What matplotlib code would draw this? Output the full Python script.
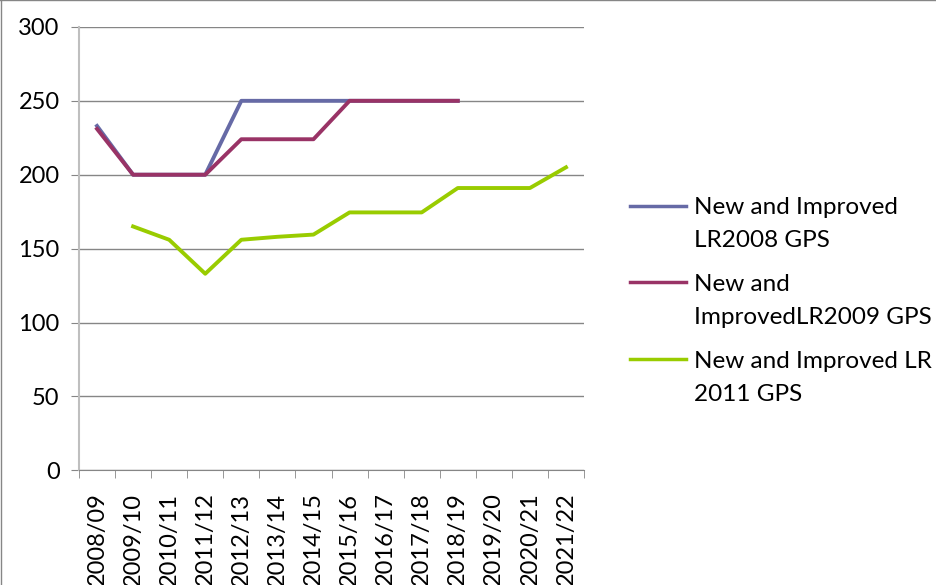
import matplotlib
matplotlib.use("Agg")
import matplotlib.pyplot as plt
from matplotlib.lines import Line2D
import numpy as np

nan = np.nan

seasons = ["2008/09", "2009/10", "2010/11", "2011/12", "2012/13", "2013/14", "2014/15",
           "2015/16", "2016/17", "2017/18", "2018/19", "2019/20", "2020/21", "2021/22"]

lr2008 = [233, 200, 200, 200, 250, 250, 250, 250, 250, 250, 250, nan, nan, nan]
lr2009 = [231, 200, 200, 200, 224, 224, 224, 250, 250, 250, 250, nan, nan, nan]
lr2011 = [nan, 165, 156, 133, 156, 158, 159.5, 174.5, 174.5, 174.5, 191, 191, 191, 205]

labels = ["New and Improved\nLR2008 GPS",
          "New and\nImprovedLR2009 GPS",
          "New and Improved LR\n2011 GPS"]
colors = ["#666AA6", "#993366", "#99CC00"]

plt.rcParams['font.family'] = ['Lato', 'DejaVu Sans']

fig = plt.figure(figsize=(9.37, 5.85), dpi=100)
ax = fig.add_axes([0.0843, 0.196, 0.5390, 0.758])

x = np.arange(len(seasons))
for vals, lab, col in zip([lr2008, lr2009, lr2011], labels, colors):
    ax.plot(x, vals, color=col, lw=2.8, label=lab)

ax.set_xlim(-0.5, len(seasons) - 0.5)
ax.set_ylim(0, 300)
ax.set_yticks(range(0, 301, 50))
ax.yaxis.grid(True, color="#868686", lw=1)
ax.set_axisbelow(True)

ax.set_xticks(x)
ax.set_xticklabels(seasons, rotation=90, fontsize=17)
ax.set_xticks(np.arange(-0.5, len(seasons)), minor=True)
ax.tick_params(axis='x', which='major', length=0, pad=16)
ax.tick_params(axis='x', which='minor', length=6, color="#868686")
ax.tick_params(axis='y', length=6, color="#868686", labelsize=17, pad=8)

for s in ['top', 'right']:
    ax.spines[s].set_visible(False)
ax.spines['left'].set_color("#BFBFBF")
ax.spines['left'].set_linewidth(1.5)
ax.spines['bottom'].set_color("#868686")

leg = fig.legend(loc='upper left', bbox_to_anchor=(630 / 937, 1 - 197 / 585), frameon=False,
                 fontsize=17.5, handlelength=2.3, handletextpad=0.35, labelspacing=0.95,
                 borderpad=0, borderaxespad=0)
for t in leg.get_texts():
    t.set_linespacing(1.7)
for h in leg.legend_handles:
    h.set_linewidth(2.5)
for col in leg._legend_handle_box.get_children():
    for item in col.get_children():
        item.align = "top"

# chart area border (left and top edges visible)
fig.add_artist(Line2D([0.0008, 0.0008], [0, 1], transform=fig.transFigure, color="#868686", lw=1))
fig.add_artist(Line2D([0, 1], [0.9992, 0.9992], transform=fig.transFigure, color="#868686", lw=1))

fig.savefig("out.png", dpi=100)
